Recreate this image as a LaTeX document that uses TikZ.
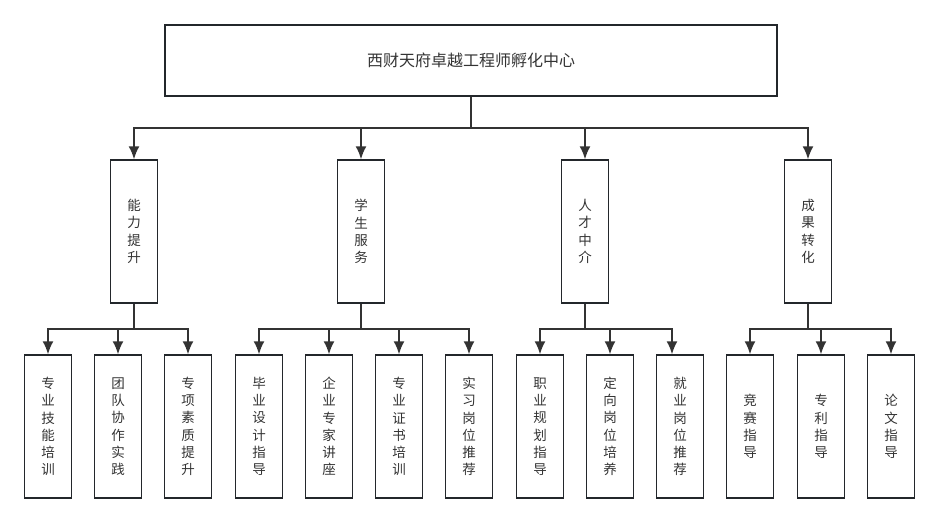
\documentclass[tikz,border=0pt]{standalone}
\usepackage{fontspec}
\usepackage{xcolor}
\usepackage{tikz}
\usetikzlibrary{arrows.meta}
\usetikzlibrary{positioning}
\newfontfamily\cjk{Noto Sans CJK SC}
\definecolor{boxline}{HTML}{23272B}
\definecolor{conline}{HTML}{333333}
\definecolor{txt}{HTML}{333333}
\tikzset{
  topbox/.style={draw=boxline,line width=1.5pt,minimum width=612pt,minimum height=71pt,inner sep=0pt,font=\cjk\fontsize{16}{18}\selectfont,text=txt},
  midbox/.style={draw=boxline,line width=1.5pt,minimum width=47pt,minimum height=143pt,inner sep=0pt,align=center,font=\cjk\fontsize{13.5}{17.3}\selectfont,text=txt},
  leafbox/.style={midbox},
  conn/.style={draw=conline,line width=1.6pt,-{Latex[length=13pt,width=11pt]}}
}
\begin{document}
\begin{tikzpicture}[x=1pt,y=-1pt]
 	\useasboundingbox (0,0) rectangle (940,523);
 	\node[topbox] (top) at (471,60.5) {西财天府卓越工程师孵化中心};
 	% second level
 	\foreach \n/\x/\t in {m1/134/{能\\力\\提\\升},m2/361/{学\\生\\服\\务},m3/585/{人\\才\\中\\介},m4/808/{成\\果\\转\\化}}
 	\node[midbox] (\n) at (\x,231.5) {\t};
 	% leaves
 	\foreach \n/\x/\t in {l1/48/{专\\业\\技\\能\\培\\训},l2/118/{团\\队\\协\\作\\实\\践},l3/188/{专\\项\\素\\质\\提\\升},
 	l4/259/{毕\\业\\设\\计\\指\\导},l5/329/{企\\业\\专\\家\\讲\\座},l6/399/{专\\业\\证\\书\\培\\训},l7/469/{实\\习\\岗\\位\\推\\荐},
 	l8/540/{职\\业\\规\\划\\指\\导},l9/610/{定\\向\\岗\\位\\培\\养},l10/680/{就\\业\\岗\\位\\推\\荐},
 	l11/750/{竞\\赛\\指\\导},l12/821/{专\\利\\指\\导},l13/891/{论\\文\\指\\导}}
 	\node[leafbox] (\n) at (\x,426.5) {\t};
 	\coordinate (bus) at (0,128);
 	\coordinate (sub) at (0,329);
 	\foreach \m in {m1,m2,m3,m4}
 	\draw[conn] (top.south) -- (top.south |- bus) -| (\m.north);
 	\foreach \m/\l in {m1/l1,m1/l2,m1/l3,m2/l4,m2/l5,m2/l6,m2/l7,m3/l8,m3/l9,m4/l11,m4/l12,m4/l13}
 	\draw[conn] (\m.south) -- (\m.south |- sub) -| (\l.north);
 	\draw[conn] (m3.south) -- (m3.south |- sub) -| ([xshift=-8pt]l10.north);
\end{tikzpicture}
\end{document}
